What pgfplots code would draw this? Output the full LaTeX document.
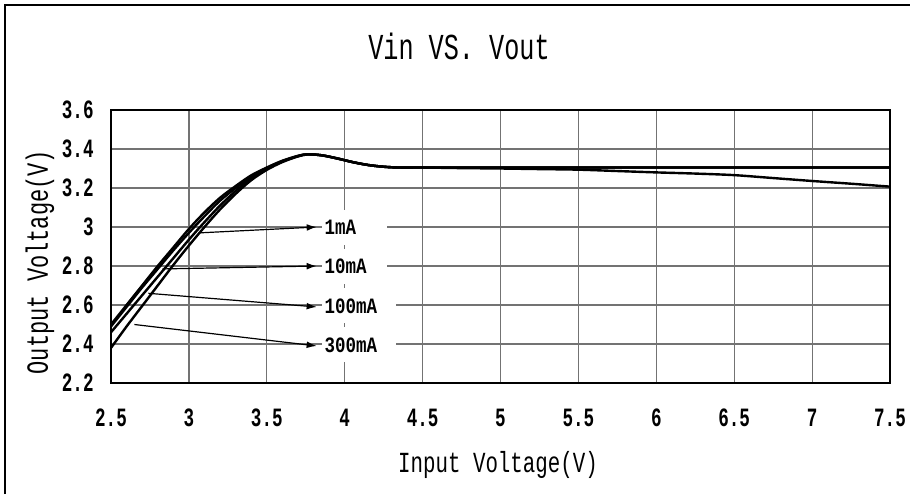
\documentclass[border=0pt]{standalone}
\usepackage{pgfplots}
\pgfplotsset{compat=1.18}
\usepackage{graphicx}
\usepackage{fontspec}
\newfontfamily\mono{Liberation Mono}
\usetikzlibrary{arrows.meta}
\newcommand\TT[3]{{\fontsize{#1}{#1}\selectfont\mono\scalebox{1}[#2]{#3}}}
\newcommand\TB[3]{{\fontsize{#1}{#1}\selectfont\mono\bfseries\scalebox{1}[#2]{#3}}}

\pgfplotstableread{
x y
2.5 2.50
2.6 2.60
2.7 2.70
2.8 2.80
2.9 2.895
3.0 2.99
3.1 3.075
3.2 3.15
3.3 3.21
3.4 3.265
3.5 3.305
3.6 3.34
3.7 3.365
3.76 3.373
3.85 3.368
3.95 3.352
4.05 3.333
4.15 3.318
4.25 3.309
4.35 3.305
4.5 3.305
5.0 3.305
6.0 3.305
7.0 3.305
7.5 3.305
}\curveA

\pgfplotstableread{
x y
2.5 2.49
2.6 2.59
2.7 2.69
2.8 2.785
2.9 2.88
3.0 2.97
3.1 3.055
3.2 3.135
3.3 3.20
3.4 3.258
3.5 3.303
3.6 3.338
3.7 3.364
3.76 3.373
3.85 3.368
3.95 3.352
4.05 3.333
4.15 3.318
4.25 3.309
4.35 3.305
4.5 3.305
5.0 3.305
6.0 3.305
7.0 3.305
7.5 3.305
}\curveB

\pgfplotstableread{
x y
2.5 2.46
2.6 2.555
2.7 2.65
2.8 2.745
2.9 2.84
3.0 2.935
3.1 3.025
3.2 3.11
3.3 3.185
3.4 3.25
3.5 3.298
3.6 3.336
3.7 3.363
3.76 3.372
3.85 3.368
3.95 3.352
4.05 3.333
4.15 3.318
4.25 3.309
4.35 3.305
4.5 3.305
5.0 3.305
6.0 3.305
7.0 3.305
7.5 3.305
}\curveC

\pgfplotstableread{
x y
2.5 2.38
2.6 2.49
2.7 2.595
2.8 2.70
2.9 2.805
3.0 2.905
3.1 3.0
3.2 3.09
3.3 3.17
3.4 3.24
3.5 3.293
3.6 3.333
3.7 3.362
3.76 3.372
3.85 3.368
3.95 3.352
4.05 3.333
4.15 3.318
4.25 3.309
4.35 3.305
4.5 3.305
4.75 3.302
5.0 3.300
5.25 3.297
5.5 3.294
5.75 3.287
6.0 3.280
6.25 3.274
6.5 3.266
6.75 3.251
7.0 3.236
7.25 3.222
7.5 3.207
}\curveD

\begin{document}
\begin{tikzpicture}
\useasboundingbox (0,0) rectangle (455pt,247pt);
\draw[line width=0.75pt] (2.5pt,0) -- (2.5pt,244.5pt) -- (455pt,244.5pt);
\node at (229.5pt,224pt) {\TT{12.6pt}{1.45}{Vin VS. Vout}};
\node at (249pt,14.5pt) {\TT{10.4pt}{1.4}{Input Voltage(V)}};
\node[rotate=90] at (20pt,116pt) {\TT{11pt}{1.4}{Output Voltage(V)}};
\begin{axis}[
  at={(55.5pt,55.5pt)}, anchor=south west,
  scale only axis, width=389.5pt, height=136.5pt,
  xmin=2.5, xmax=7.5, ymin=2.2, ymax=3.6,
  xtick={2.5,3,3.5,4,4.5,5,5.5,6,6.5,7,7.5},
  ytick={2.2,2.4,2.6,2.8,3,3.2,3.4,3.6},
  grid=major,
  grid style={black!55, line width=0.6pt},
  axis line style={line width=0.75pt},
  tick align=outside, major tick length=2.5pt,
  xtick style={draw=none},
  ytick style={draw=none},
  xticklabel={\TB{8.8pt}{1.5}{\pgfmathprintnumber[assume math mode=true]{\tick}}},
  yticklabel={\TB{8.8pt}{1.5}{\pgfmathprintnumber[assume math mode=true]{\tick}}},
  xticklabel style={anchor=center, inner sep=0pt, yshift=-15pt},
  yticklabel style={anchor=east, inner sep=0pt, xshift=-6pt},
]
\addplot[black, line width=1.2pt, smooth] table {\curveA};
\addplot[black, line width=1.2pt, smooth] table {\curveB};
\addplot[black, line width=1.2pt, smooth] table {\curveC};
\addplot[black, line width=1.2pt, smooth] table {\curveD};

\addplot[black, line width=0.6pt, -{Latex[length=5pt,width=3.4pt]}] coordinates {(3.07,2.97) (3.82,3.0)};
\addplot[black, line width=0.6pt, -{Latex[length=5pt,width=3.4pt]}] coordinates {(2.83,2.785) (3.82,2.8)};
\addplot[black, line width=0.6pt, -{Latex[length=5pt,width=3.4pt]}] coordinates {(2.74,2.66) (3.82,2.59)};
\addplot[black, line width=0.6pt, -{Latex[length=5pt,width=3.4pt]}] coordinates {(2.65,2.50) (3.82,2.39)};

\node[fill=white, anchor=west, inner xsep=1.5pt, inner ysep=0pt, minimum height=17.5pt, text width=29.5pt, align=left] at (axis cs:3.85,3.0) {\TB{8.75pt}{1.25}{1mA}};
\node[fill=white, anchor=west, inner xsep=1.5pt, inner ysep=0pt, minimum height=17.5pt, text width=29.5pt, align=left] at (axis cs:3.85,2.8) {\TB{8.75pt}{1.25}{10mA}};
\node[fill=white, anchor=west, inner xsep=1.5pt, inner ysep=0pt, minimum height=17.5pt, text width=34pt, align=left] at (axis cs:3.85,2.595) {\TB{8.75pt}{1.25}{100mA}};
\node[fill=white, anchor=west, inner xsep=1.5pt, inner ysep=0pt, minimum height=17.5pt, text width=34pt, align=left] at (axis cs:3.85,2.395) {\TB{8.75pt}{1.25}{300mA}};
\end{axis}
\end{tikzpicture}
\end{document}
